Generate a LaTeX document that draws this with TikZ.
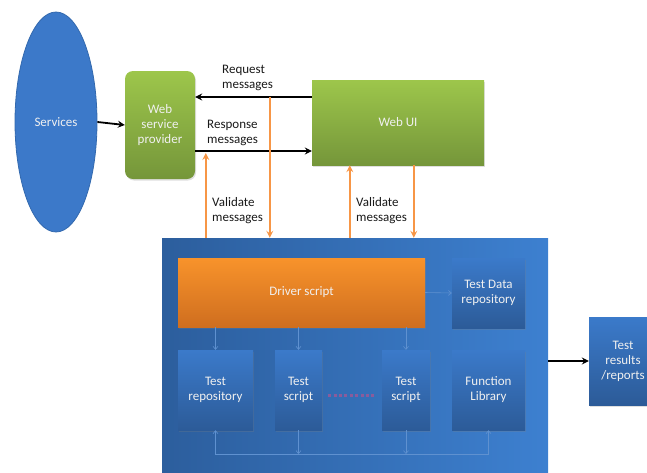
\documentclass[tikz,border=0pt]{standalone}
\usepackage{fontspec}
\setmainfont{Carlito}
\usepackage{tikz}
\usetikzlibrary{calc, shapes.geometric, arrows.meta, shadows}

\definecolor{svcblue}{HTML}{3C79C9}
\definecolor{svcedge}{HTML}{3369AE}
\definecolor{greentop}{HTML}{9DC64B}
\definecolor{greenbot}{HTML}{75963A}
\definecolor{orangetop}{HTML}{F8932B}
\definecolor{orangebot}{HTML}{CF6E1F}
\definecolor{bluetop}{HTML}{3B7ACA}
\definecolor{bluebot}{HTML}{2C5B98}
\definecolor{bigleft}{HTML}{2C5E9D}
\definecolor{bigright}{HTML}{3D80D0}
\definecolor{valid}{HTML}{F79646}
\definecolor{innerline}{HTML}{5F91D0}
\definecolor{dots}{HTML}{8A5C9C}

\begin{document}
\begin{tikzpicture}[x=1pt, y=-1pt, font=\fontsize{13}{15}\selectfont,
    box/.style={draw=none, inner sep=2pt, align=center, text=white!94!black},
    green/.style={box, top color=greentop, bottom color=greenbot},
    inbox/.style={box, top color=bluetop, bottom color=bluebot,
        drop shadow={opacity=0.25, shadow xshift=1pt, shadow yshift=-1.5pt}},
    msg/.style={line width=1.8pt, -{Stealth[length=7pt, width=7pt, inset=2.5pt]}},
    check/.style={line width=2pt, draw=valid, -{Stealth[length=7pt, width=7pt, inset=2.5pt]}},
    inner/.style={line width=0.6pt, draw=innerline, -{Straight Barb[length=3pt, width=5pt]}},
    lbl/.style={anchor=west, inner sep=0pt, align=left, text=black!90}]
    \useasboundingbox (0,0) rectangle (647,472);

    % left side
    \node[ellipse, fill=svcblue, draw=svcedge, line width=0.8pt, minimum width=82pt,
          minimum height=220pt, inner sep=0pt, text=white!94!black] (svc) at (56,122) {Services};
    \node[green, rounded corners=8pt, minimum width=70pt, minimum height=108pt,
          drop shadow={opacity=0.25, shadow xshift=1pt, shadow yshift=-1.5pt}] (wsp) at (160,125)
          {Web\\service\\provider};
    \node[green, minimum width=172pt, minimum height=85pt,
          drop shadow={opacity=0.25, shadow xshift=1pt, shadow yshift=-1.5pt}] (webui) at (398,122.5) {Web UI};

    % framework
    \node[box, left color=bigleft, right color=bigright, minimum width=386pt,
          minimum height=234pt] (big) at (355,355) {};
    \node[box, top color=orangetop, bottom color=orangebot, minimum width=247pt, minimum height=69pt,
          drop shadow={opacity=0.25, shadow xshift=1pt, shadow yshift=-1.5pt}] (driver) at (301.5,292.5) {Driver script};
    \node[inbox, minimum width=73pt, minimum height=70pt] (tdata) at (488.5,293) {Test Data\\repository};
    \node[inbox, minimum width=75pt, minimum height=80pt] (trepo) at (215.5,390) {Test\\repository};
    \node[inbox, minimum width=47pt, minimum height=80pt] (ts1) at (298.5,390) {Test\\script};
    \node[inbox, minimum width=48pt, minimum height=80pt] (ts2) at (406,390) {Test\\script};
    \node[inbox, minimum width=73pt, minimum height=80pt] (flib) at (488.5,390) {Function\\Library};
    \node[inbox, minimum width=68pt, minimum height=88pt] (res) at (623,361) {Test\\results\\/reports};

    \coordinate (reqy) at (0,97);
    \coordinate (resy) at (0,151);
    \coordinate (bus) at (0,454);

    % messages
    \draw[msg] (svc.east) -- (wsp.west);
    \draw[msg] (webui.west |- reqy) -- (wsp.east |- reqy);
    \draw[msg] (wsp.east |- resy) -- (webui.west |- resy);
    \node[lbl] (reqlbl) at (222,78) {Request\\messages};
    \node[lbl] (reslbl) at (207,133) {Response\\messages};

    % validation
    \draw[check] ([xshift=44pt]big.north west) -- ([xshift=44pt]big.north west |- 0,153);
    \draw[check] ([xshift=108pt]big.north west |- reqy) -- ([xshift=108pt]big.north west);
    \draw[check] ([xshift=38pt]webui.south west |- big.north) -- ([xshift=38pt]webui.south west);
    \draw[check] ([xshift=102pt]webui.south west) -- ([xshift=102pt]webui.south west |- big.north);
    \node[lbl] (val1) at (212,211) {Validate\\messages};
    \node[lbl] (val2) at (356,211) {Validate\\messages};

    % inside the framework
    \draw[inner] (driver.east) -- (tdata.west);
    \draw[inner] (driver.south -| trepo.north) -- (trepo.north);
    \draw[inner] (driver.south -| ts1.north) -- (ts1.north);
    \draw[inner] (driver.south -| ts2.north) -- (ts2.north);
    \draw[inner] (ts1.south) -- (ts1.south |- bus);
    \draw[inner] (ts2.south) -- (ts2.south |- bus);
    \draw[inner, {Straight Barb[length=3pt, width=5pt]}-{Straight Barb[length=3pt, width=5pt]}]
        (trepo.south) -- (trepo.south |- bus) -- (flib.south |- bus) -- (flib.south);
    \draw[dots, line width=3pt, dash pattern=on 3pt off 2.4pt]
        ([xshift=6pt, yshift=-5pt]ts1.east) -- ([xshift=-6pt, yshift=-5pt]ts2.west);

    % results
    \draw[msg] (big.east |- res.west) -- (res.west);
\end{tikzpicture}
\end{document}
